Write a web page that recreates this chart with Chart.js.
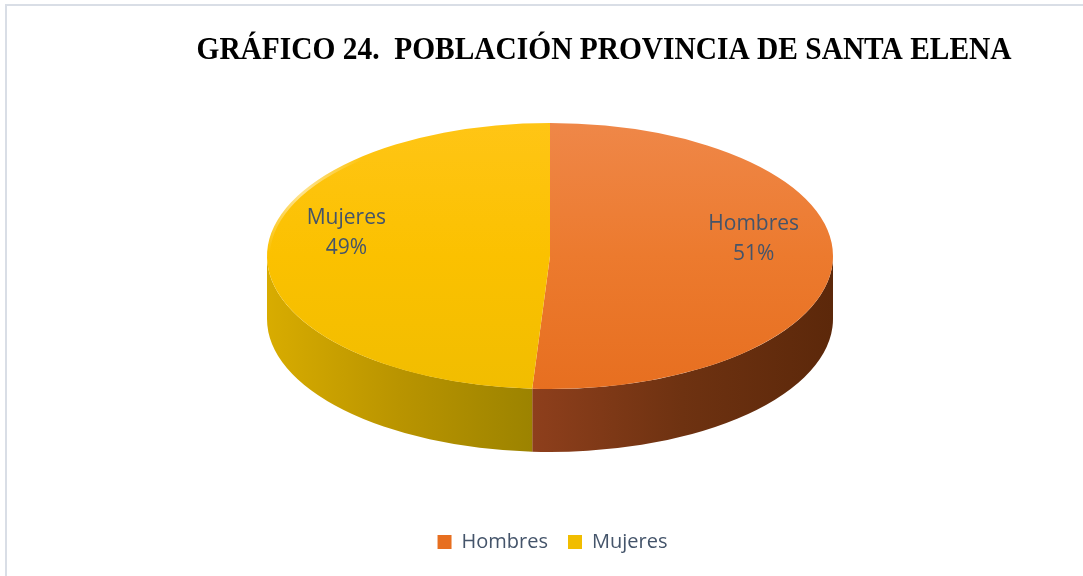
<!DOCTYPE html>
<html>
<head>
<meta charset="utf-8">
<script src="https://cdn.jsdelivr.net/npm/chart.js@4/dist/chart.umd.min.js"></script>
<style>
  body { margin: 0; background: #fff; }
</style>
</head>
<body>
<canvas id="myChart" width="1083" height="576"></canvas>
<script>
var labels = ['Hombres', 'Mujeres'];
var values = [51, 49];
var titleText = 'GRÁFICO 24.  POBLACIÓN PROVINCIA DE SANTA ELENA';

// colours for the top faces and the side walls
var topColors = [['#ef8748', '#ec7a2e', '#e76f20'], ['#ffc515', '#fbc100', '#f1bd00']];
var sideColors = [['#8e3f1c', '#6e3211', '#5c280a'], ['#d8ac00', '#b99400', '#9c8300']];
var flatColors = ['#ed7d31', '#ffc000'];
var textColor = '#44546a';

// where the tilted pie sits on the page
var CX = 550, CY = 256, RX = 283, RY = 133, DEPTH = 63;

function topFill(context) {
  let chart = context.chart;
  let area = chart.chartArea;
  let i = context.dataIndex;
  if (!area || i === undefined) return flatColors[i || 0];
  let g = chart.ctx.createLinearGradient(0, area.top, 0, area.bottom);
  g.addColorStop(0, topColors[i][0]);
  g.addColorStop(0.5, topColors[i][1]);
  g.addColorStop(1, topColors[i][2]);
  return g;
}

var pie3d = {
  id: 'pie3d',
  beforeDraw(chart) {
    let ctx = chart.ctx;
    ctx.save();
    ctx.fillStyle = '#fff';
    ctx.fillRect(0, 0, chart.width, chart.height);
    // frame, only top and left edges are in view
    ctx.strokeStyle = '#d9dee6';
    ctx.lineWidth = 2;
    ctx.beginPath();
    ctx.moveTo(6, chart.height);
    ctx.lineTo(6, 5);
    ctx.lineTo(chart.width, 5);
    ctx.stroke();
    // title, squeezed a little to the width it has in the picture
    ctx.fillStyle = '#000';
    ctx.font = 'bold 31px "Liberation Serif"';
    ctx.textAlign = 'center';
    ctx.textBaseline = 'alphabetic';
    let w = ctx.measureText(titleText).width;
    ctx.translate(604, 59);
    ctx.scale(815 / w, 1);
    ctx.fillText(titleText, 0, 0);
    ctx.restore();
  },
  beforeDatasetsDraw(chart) {
    let ctx = chart.ctx;
    let meta = chart.getDatasetMeta(0);
    let first = meta.data[0];
    let p = first.getProps(['x', 'y', 'outerRadius']);

    // side walls, the front half (0..PI) only
    ctx.save();
    meta.data.forEach((arc, i) => {
      let a = arc.getProps(['startAngle', 'endAngle']);
      let s = Math.max(a.startAngle, 0);
      let e = Math.min(a.endAngle, Math.PI);
      if (e <= s) return;
      let x1 = CX + RX * Math.cos(e);
      let y1 = CY + RY * Math.sin(e);
      let xl = Math.min(CX + RX * Math.cos(s), x1);
      let xr = Math.max(CX + RX * Math.cos(s), x1);
      let g = ctx.createLinearGradient(xl, 0, xr, 0);
      g.addColorStop(0, sideColors[i][0]);
      g.addColorStop(0.5, sideColors[i][1]);
      g.addColorStop(1, sideColors[i][2]);
      ctx.beginPath();
      ctx.ellipse(CX, CY, RX, RY, 0, s, e);
      ctx.lineTo(x1, y1 + DEPTH);
      ctx.ellipse(CX, CY + DEPTH, RX, RY, 0, e, s, true);
      ctx.closePath();
      ctx.fillStyle = g;
      ctx.fill();
    });
    ctx.restore();

    // squash the round pie into the top ellipse
    ctx.save();
    ctx.translate(CX, CY);
    ctx.scale(RX / p.outerRadius, RY / p.outerRadius);
    ctx.translate(-p.x, -p.y);
  },
  afterDatasetsDraw(chart) {
    let ctx = chart.ctx;
    ctx.restore();

    // soft light on the upper left rim
    ctx.save();
    let glow = ctx.createRadialGradient(300, 190, 0, 300, 190, 70);
    glow.addColorStop(0, 'rgba(255,255,255,0.55)');
    glow.addColorStop(1, 'rgba(255,255,255,0)');
    ctx.strokeStyle = glow;
    ctx.lineWidth = 4;
    ctx.beginPath();
    ctx.ellipse(CX, CY, RX - 1, RY - 1, 0, Math.PI, Math.PI * 1.5);
    ctx.stroke();
    ctx.restore();

    let meta = chart.getDatasetMeta(0);
    let total = values.reduce((a, b) => a + b, 0);
    ctx.save();
    ctx.fillStyle = textColor;
    ctx.font = '21px "Open Sans"';
    ctx.textAlign = 'center';
    ctx.textBaseline = 'alphabetic';
    meta.data.forEach((arc, i) => {
      let a = arc.getProps(['startAngle', 'endAngle']);
      let mid = (a.startAngle + a.endAngle) / 2;
      let px = CX + RX * 0.72 * Math.cos(mid);
      let py = CY + RY * 0.72 * Math.sin(mid) - 21;
      ctx.fillText(labels[i], px, py - 8);
      ctx.fillText(Math.round(values[i] / total * 100) + '%', px, py + 22);
    });
    ctx.restore();
  }
};

function drawChart() {
  let chartOne = document.getElementById('myChart');
  new Chart(chartOne, {
    type: 'pie',
    data: {
      labels: labels,
      datasets: [{
        data: values,
        backgroundColor: topFill,
        borderWidth: 0,
        clip: false
      }]
    },
    options: {
      responsive: false,
      animation: false,
      layout: { padding: { top: 90, bottom: 14, left: 22, right: 0 } },
      plugins: {
        tooltip: { enabled: false },
        title: { display: false },
        legend: {
          position: 'bottom',
          labels: {
            color: textColor,
            font: { family: 'Open Sans', size: 20 },
            boxWidth: 14,
            boxHeight: 14,
            padding: 20
          }
        }
      }
    },
    plugins: [pie3d]
  });
}

drawChart();
</script>
</body>
</html>
